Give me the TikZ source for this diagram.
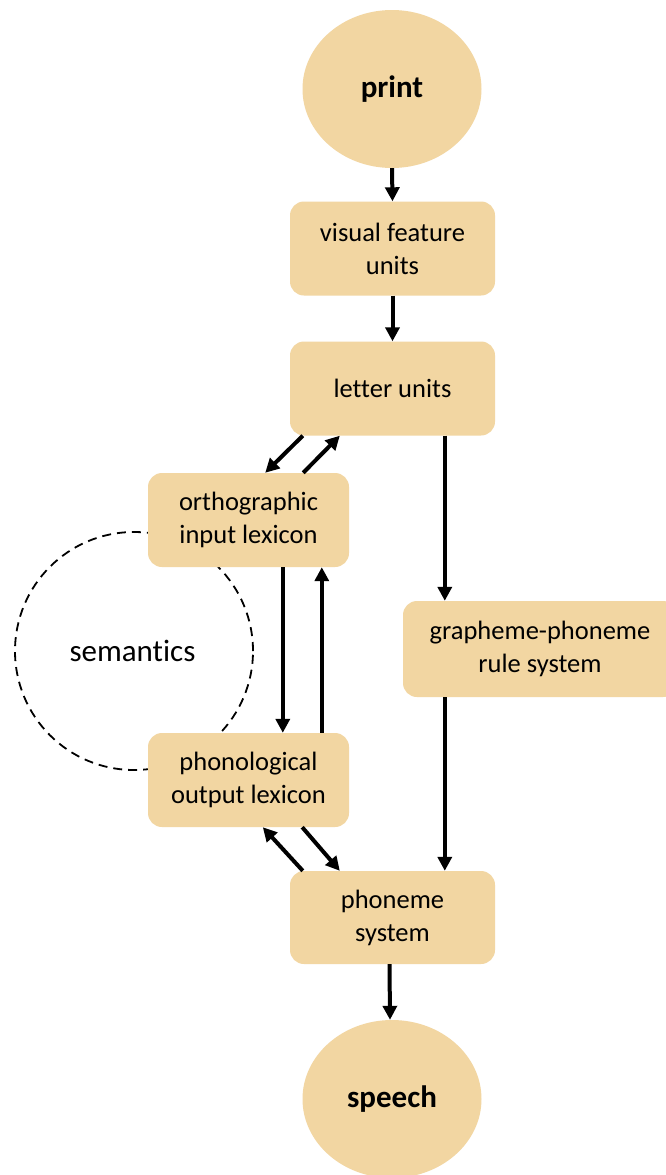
\documentclass[tikz,border=0pt]{standalone}
\usepackage{fontspec}
\setmainfont{Carlito}[Ligatures={NoCommon}]
\usetikzlibrary{arrows.meta,shapes.geometric}
\definecolor{tan}{RGB}{242,214,162}
\tikzset{
  stagebox/.style={fill=tan, rounded corners=14pt, minimum width=205pt,
    minimum height=94pt, align=center, inner sep=0pt,
    font=\fontsize{26.5}{33}\selectfont},
  endpoint/.style={ellipse, fill=tan, minimum width=179pt, minimum height=158pt,
    inner sep=0pt, font=\fontsize{31}{36}\selectfont\bfseries},
  flow/.style={line width=4pt, -{Triangle[length=14pt,width=14pt]}},
}
\begin{document}
\begin{tikzpicture}[x=1pt,y=-1pt]
  \clip (0,0) rectangle (666,1175);
  \fill[white] (0,0) rectangle (666,1175);

  % semantics sits behind the lexicon boxes
  \node[circle, draw, line width=1.8pt, dash pattern=on 9pt off 6pt,
        minimum size=238pt, inner sep=0pt] (semcirc) at (134,651) {};
  \node[font=\fontsize{31}{36}\selectfont] (sem) at (132.5,651) {semantics};

  \node[endpoint] (print)  at (392,89)   {print};
  \node[stagebox] (visual) at (392.5,248.5) {visual feature\\units};
  \node[stagebox] (letter) at (392.5,388.5) {letter units};
  \node[stagebox, minimum width=201pt] (ortho) at (248.5,520) {orthographic\\input lexicon};
  \node[stagebox, minimum width=201pt] (phon)  at (248.5,780) {phonological\\output lexicon};
  \node[stagebox, minimum width=274pt, minimum height=96pt] (gpc) at (540,649) {grapheme-phoneme\\rule system};
  \node[stagebox, minimum height=93pt] (phoneme) at (392.5,917.5) {phoneme\\system};
  \node[endpoint] (speech) at (392,1099) {speech};

  % main reading route
  \draw[flow] (print.south) -- (visual.north);
  \draw[flow] (visual.south) -- (letter.north);

  % letter units <-> orthographic input lexicon
  \draw[flow] ([xshift=13pt]letter.south west) -- ([xshift=-84pt]ortho.north east);
  \draw[flow] ([xshift=-46pt]ortho.north east) -- ([xshift=50pt]letter.south west);

  % orthographic <-> phonological lexicon
  \draw[flow] ([xshift=135pt]ortho.south west) -- ([xshift=135pt]phon.north west);
  \draw[flow] ([xshift=174pt]phon.north west) -- ([xshift=174pt]ortho.south west);

  % sublexical route
  \draw[flow] ([xshift=155pt]letter.south west) -- ([xshift=42pt]gpc.north west);
  \draw[flow] ([xshift=42pt]gpc.south west) -- ([xshift=155pt]phoneme.north west);

  % phonological output lexicon <-> phoneme system
  \draw[flow] ([xshift=13pt]phoneme.north west) -- ([xshift=115pt]phon.south west);
  \draw[flow] ([xshift=-47pt]phon.south east) -- ([xshift=50pt]phoneme.north west);

  \draw[flow] ([xshift=-3pt]phoneme.south) -- ([xshift=-2pt]speech.north);
\end{tikzpicture}
\end{document}
